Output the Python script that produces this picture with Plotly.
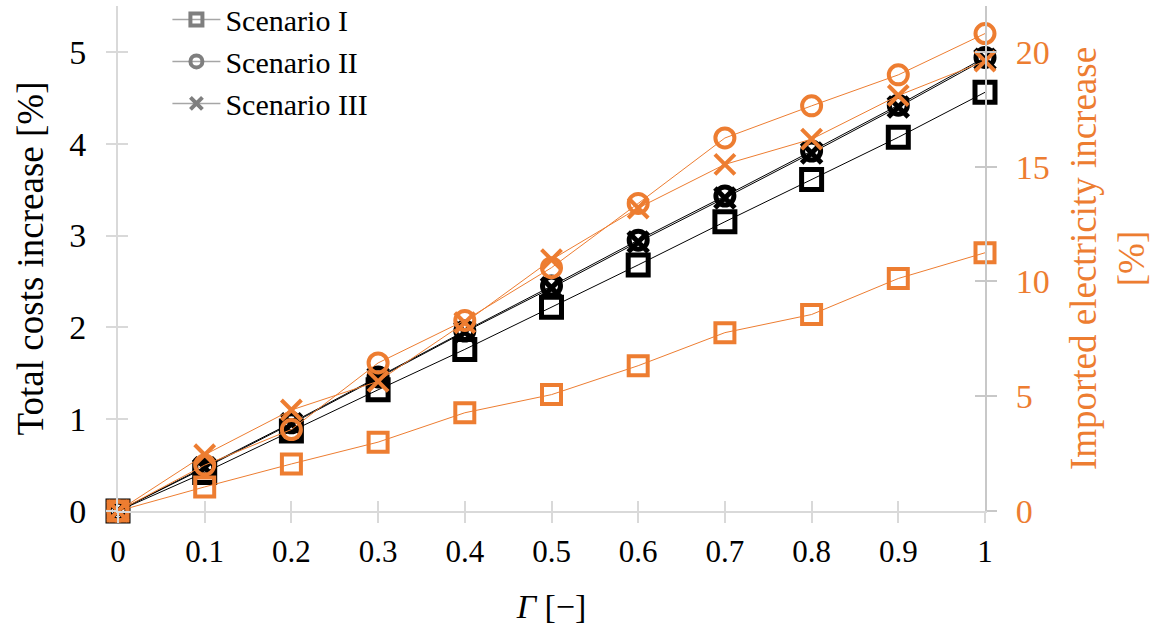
import plotly.graph_objects as go

gamma = [0, 0.1, 0.2, 0.3, 0.4, 0.5, 0.6, 0.7, 0.8, 0.9, 1.0]
x_tick_text = ["0", "0.1", "0.2", "0.3", "0.4", "0.5", "0.6", "0.7", "0.8", "0.9", "1"]

scenario_names = ["Scenario I", "Scenario II", "Scenario III"]

cost_I = [0, 0.42, 0.87, 1.32, 1.76, 2.22, 2.68, 3.15, 3.61, 4.07, 4.56]
cost_II = [0, 0.48, 0.96, 1.46, 1.96, 2.45, 2.95, 3.43, 3.92, 4.42, 4.94]
cost_III = [0, 0.47, 0.95, 1.45, 1.95, 2.43, 2.93, 3.41, 3.90, 4.40, 4.92]

imp_I = [0, 1.05, 2.05, 3.0, 4.28, 5.07, 6.33, 7.77, 8.56, 10.13, 11.25]
imp_II = [0, 2.0, 3.55, 6.45, 8.3, 10.6, 13.4, 16.25, 17.65, 19.0, 20.8]
imp_III = [0, 2.45, 4.4, 5.65, 8.2, 10.95, 13.2, 15.1, 16.2, 18.1, 19.6]

FONT = "Liberation Serif, Times New Roman, serif"
ORANGE = "#ED7D31"
BLACK = "#000000"
GREY = "#7f7f7f"
AXIS = "#d9d9d9"

fig = go.Figure()

symbols = ["square-open", "circle-open", "x-thin-open"]

# Total costs (black, left axis)
for name, ys, sym, sz in zip(scenario_names, [cost_I, cost_II, cost_III], symbols, [20, 18, 20]):
    fig.add_trace(go.Scatter(
        x=gamma, y=ys, mode="lines+markers", name=name, showlegend=False,
        line=dict(color=BLACK, width=1), cliponaxis=False,
        marker=dict(symbol=sym, size=sz, color=BLACK, line=dict(color=BLACK, width=5)),
        xaxis="x", yaxis="y",
    ))

# Imported electricity (orange, right axis)
for name, ys, sym, sz in zip(scenario_names, [imp_I, imp_II, imp_III], symbols, [19, 19, 20]):
    fig.add_trace(go.Scatter(
        x=gamma, y=ys, mode="lines+markers", name=name, showlegend=False,
        line=dict(color=ORANGE, width=1), cliponaxis=False,
        marker=dict(symbol=sym, size=sz, color=ORANGE, line=dict(color=ORANGE, width=4)),
        xaxis="x", yaxis="y2",
    ))

# Legend entries (grey)
for name, sym in zip(scenario_names, symbols):
    fig.add_trace(go.Scatter(
        x=[None], y=[None], mode="lines+markers", name=name, showlegend=True,
        line=dict(color="#a6a6a6", width=1.5),
        marker=dict(symbol=sym, size=12, color=GREY, line=dict(color=GREY, width=4)),
        xaxis="x", yaxis="y",
    ))

# empty traces to instantiate the inner-tick overlay axes
fig.add_trace(go.Scatter(x=[None], y=[None], xaxis="x3", yaxis="y3", showlegend=False, hoverinfo="skip"))
fig.add_trace(go.Scatter(x=[None], y=[None], xaxis="x3", yaxis="y4", showlegend=False, hoverinfo="skip"))

fig.update_layout(
    width=1152, height=627,
    margin=dict(l=118, r=167, t=6, b=116, autoexpand=False),
    paper_bgcolor="white", plot_bgcolor="white",
    font=dict(family=FONT, color=BLACK),
    showlegend=True,
    legend=dict(
        x=0.057, y=1.025, xanchor="left", yanchor="top",
        font=dict(family=FONT, size=30, color=BLACK),
        bgcolor="rgba(0,0,0,0)", itemwidth=48,
    ),
    xaxis=dict(
        range=[0, 1], tickvals=gamma, ticktext=x_tick_text,
        showgrid=False, zeroline=False, automargin=False,
        showline=True, linecolor=AXIS, linewidth=2,
        ticks="outside", ticklen=10, tickwidth=2, tickcolor=AXIS,
        tickfont=dict(family=FONT, size=31, color=BLACK),
        ticklabelstandoff=2,
        title=dict(text="<i>Γ</i> [−]", font=dict(family=FONT, size=34, color=BLACK), standoff=26),
        anchor="y",
    ),
    yaxis=dict(
        range=[0, 5.5], tickvals=[0, 1, 2, 3, 4, 5],
        showgrid=False, zeroline=False, automargin=False,
        showline=True, linecolor=AXIS, linewidth=2,
        ticks="outside", ticklen=10, tickwidth=2, tickcolor=AXIS,
        tickfont=dict(family=FONT, size=34, color=BLACK), ticklabelstandoff=13,
        title=dict(text="Total costs increase [%]", font=dict(family=FONT, size=37, color=BLACK), standoff=14),
        anchor="x",
    ),
    yaxis2=dict(
        range=[0, 22], tickvals=[0, 5, 10, 15, 20],
        overlaying="y", side="right", anchor="x", automargin=False,
        showgrid=False, zeroline=False,
        showline=True, linecolor="#c8c8c8", linewidth=2,
        ticks="outside", ticklen=10, tickwidth=2, tickcolor="#c8c8c8",
        tickfont=dict(family=FONT, size=34, color=ORANGE), ticklabelstandoff=12,
        title=dict(text="Imported electricity increase<br>[%]", font=dict(family=FONT, size=37, color=ORANGE), standoff=22),
    ),
    xaxis3=dict(
        range=[0, 1], tickvals=gamma, overlaying="x", anchor="y3", side="bottom",
        showgrid=False, zeroline=False, showline=False, showticklabels=False,
        ticks="inside", ticklen=10, tickwidth=2, tickcolor=AXIS,
    ),
    yaxis3=dict(
        range=[0, 5.5], tickvals=[0, 1, 2, 3, 4, 5], overlaying="y", anchor="x3", side="left",
        showgrid=False, zeroline=False, showline=False, showticklabels=False,
        ticks="inside", ticklen=10, tickwidth=2, tickcolor=AXIS,
    ),
    yaxis4=dict(
        range=[0, 22], tickvals=[0, 5, 10, 15, 20], overlaying="y", anchor="x3", side="right",
        showgrid=False, zeroline=False, showline=False, showticklabels=False,
        ticks="inside", ticklen=10, tickwidth=2, tickcolor="#c8c8c8",
    ),
)

fig.write_html(
    "out.html",
    config={"displayModeBar": False},
    post_script="document.body.style.margin='0';document.body.style.overflow='hidden';",
)
